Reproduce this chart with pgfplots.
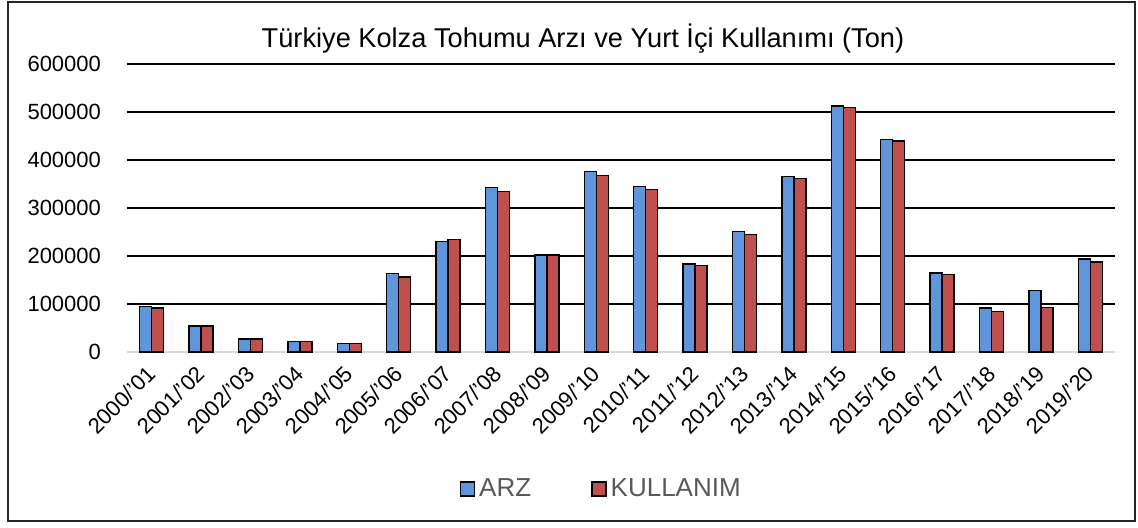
\documentclass[border=0pt]{standalone}
\usepackage{pgfplots}
\pgfplotsset{compat=1.18}
\usepackage{fontspec}
\setmainfont{Liberation Sans}
\definecolor{arz}{RGB}{95,149,218}
\definecolor{kul}{RGB}{192,80,77}
\definecolor{leg}{RGB}{89,89,89}
\begin{document}
\begin{tikzpicture}
\path[use as bounding box] (-63.5pt,-87.5pt) rectangle (505.5pt,176pt);
\draw[line width=1pt,black!85] (-59.5pt,-84.5pt) rectangle (504pt,175pt);
\begin{axis}[
  at={(0pt,0pt)}, anchor=south west,
  scale only axis, width=494pt, height=144pt,
  xmin=-0.5, xmax=19.5, ymin=0, ymax=600000,
  ybar=0pt, bar width=6pt,
  axis x line*=bottom, axis y line*=left,
  x axis line style={draw=black!15, line width=1pt},
  y axis line style={draw=none},
  ytick={0,100000,...,600000},
  ymajorgrids, grid style={black, line width=0.7pt},
  major tick length=0pt,
  scaled y ticks=false,
  /pgf/number format/assume math mode=true,
  yticklabel style={/pgf/number format/fixed, /pgf/number format/1000 sep={}, font=\fontsize{11}{13}\selectfont, xshift=-9.5pt},
  xtick=data,
  xticklabels={2000/'01,2001/'02,2002/'03,2003/'04,2004/'05,2005/'06,2006/'07,2007/'08,2008/'09,2009/'10,2010/'11,2011/'12,2012/'13,2013/'14,2014/'15,2015/'16,2016/'17,2017/'18,2018/'19,2019/'20},
  xticklabel style={xshift=-3pt, yshift=-4.5pt, rotate=45, anchor=north east, font=\fontsize{11}{13}\selectfont, inner sep=1pt},
  title={Türkiye Kolza Tohumu Arzı ve Yurt İçi Kullanımı (Ton)},
  title style={font=\fontsize{13.6}{15}\selectfont, at={(0.4615,1.045)}, anchor=center},
  legend columns=2,
  legend style={draw=none, at={(0.481,-0.476)}, anchor=center, font=\fontsize{13}{15}\selectfont, text=leg,
    /tikz/every even column/.append style={column sep=28pt}},
  legend image code/.code={\draw[#1, draw=black, line width=0.75pt] (0pt,-3.5pt) rectangle (7pt,3.5pt);},
  every axis plot/.append style={draw=black, line width=0.75pt},
]
\addplot[fill=arz] coordinates {
(0,94400) (1,54000) (2,27000) (3,21500) (4,18000) (5,164000) (6,230600) (7,342300) (8,202000) (9,375600)
(10,345000) (11,183300) (12,250600) (13,366000) (14,512500) (15,442300) (16,165000) (17,91700) (18,127700) (19,193700)};
\addplot[fill=kul] coordinates {
(0,91600) (1,54000) (2,27000) (3,21500) (4,18000) (5,156000) (6,234000) (7,334700) (8,202000) (9,368000)
(10,339000) (11,179800) (12,245000) (13,361800) (14,509000) (15,440000) (16,161700) (17,84600) (18,93000) (19,188000)};
\legend{ARZ,KULLANIM}
\end{axis}
\end{tikzpicture}
\end{document}
